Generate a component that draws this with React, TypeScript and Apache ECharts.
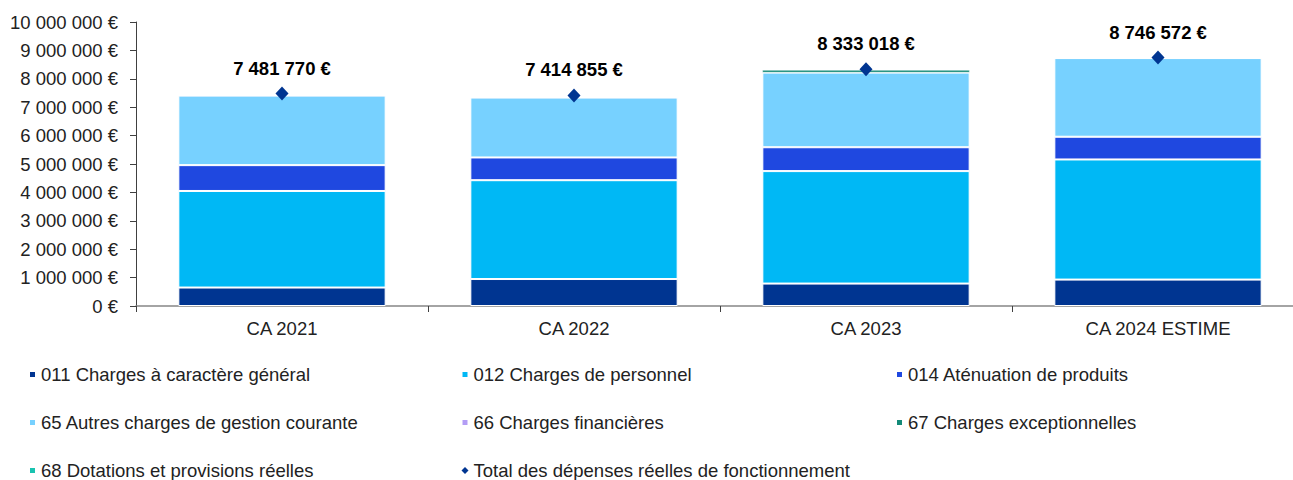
import React, { useEffect, useRef } from "react";
import * as echarts from "echarts";

const categories = ["CA 2021", "CA 2022", "CA 2023", "CA 2024 ESTIME"];
const c011 = [650000, 950000, 790000, 930000];
const c012 = [3400000, 3480000, 3960000, 4230000];
const c014 = [910000, 800000, 840000, 800000];
const c65 = [2450000, 2110000, 2630000, 2770000];
const c66 = [0, 0, 0, 0];
const c67 = [0, 0, 100000, 0];
const c68 = [0, 0, 0, 0];
const totals = [7481770, 7414855, 8333018, 8746572];

const names = [
  "011 Charges à caractère général",
  "012 Charges de personnel",
  "014 Aténuation de produits",
  "65 Autres charges de gestion courante",
  "66 Charges financières",
  "67 Charges exceptionnelles",
  "68 Dotations et provisions réelles",
];
const totalName = "Total des dépenses réelles de fonctionnement";
const colors = ["#003591", "#00B8F5", "#1F48E0", "#77D1FF", "#B39DF5", "#138A78", "#19C3B0"];
const seriesValues = [c011, c012, c014, c65, c66, c67, c68];

const fmt = (v: number) =>
  Math.round(v).toString().replace(/\B(?=(\d{3})+(?!\d))/g, " ") + " €";

const FONT = "'Liberation Sans', Arial, sans-serif";

export default function App() {
  const ref = useRef<HTMLDivElement>(null);
  useEffect(() => {
    document.body.style.margin = "0";
    document.body.style.overflow = "hidden";
    const chart = echarts.init(ref.current!, undefined, { renderer: "svg" });
    const legendCommon = {
      orient: "vertical" as const,
      itemWidth: 7,
      itemHeight: 7,
      itemGap: 29,
      icon: "rect",
      height: 200,
      textStyle: { fontFamily: FONT, fontSize: 18.5, lineHeight: 18, color: "#222" },
      selectedMode: false,
      padding: 0,
    };
    chart.setOption({
      animation: false,
      textStyle: { fontFamily: FONT },
      grid: { left: 136, right: 0, top: 22, bottom: 174 },
      legend: [
        { ...legendCommon, left: 28, top: 365, data: [names[0], names[3], names[6]] },
        {
          ...legendCommon,
          left: 460.5,
          top: 365,
          data: [names[1], names[4], { name: totalName, icon: "diamond" }],
        },
        { ...legendCommon, left: 895, top: 365, data: [names[2], names[5]] },
      ],
      xAxis: {
        type: "category",
        data: categories,
        axisLine: { lineStyle: { color: "#868686", width: 1.5 } },
        axisTick: { show: true, length: 6, lineStyle: { color: "#404040" } },
        axisLabel: { fontFamily: FONT, fontSize: 18.5, color: "#222", margin: 13 },
      },
      yAxis: {
        type: "value",
        min: 0,
        max: 10000000,
        interval: 1000000,
        axisLine: { show: true, lineStyle: { color: "#404040", width: 1 } },
        axisTick: { show: true, length: 6, lineStyle: { color: "#404040" } },
        splitLine: { show: false },
        axisLabel: {
          fontFamily: FONT,
          fontSize: 18.5,
          color: "#222",
          margin: 18,
          formatter: (v: number) => fmt(v),
        },
      },
      series: [
        ...seriesValues.map((vals, i) => ({
          name: names[i],
          type: "bar",
          stack: "total",
          barWidth: "71%",
          data: vals,
          itemStyle: {
            color: colors[i],
            borderColor: "#ffffff",
            borderWidth: i === 5 ? 0.5 : 1,
          },
        })),
        {
          name: totalName,
          type: "scatter",
          data: totals,
          symbol: "diamond",
          symbolSize: [13, 14],
          itemStyle: { color: "#003591", opacity: 1 },
          z: 5,
          label: {
            show: true,
            position: "top",
            distance: 9,
            fontFamily: FONT,
            fontSize: 18.5,
            fontWeight: "bold",
            color: "#000",
            formatter: (p: any) => fmt(p.value),
          },
        },
      ],
    });
    return () => chart.dispose();
  }, []);
  return <div ref={ref} style={{ width: 1304, height: 480 }} />;
}
